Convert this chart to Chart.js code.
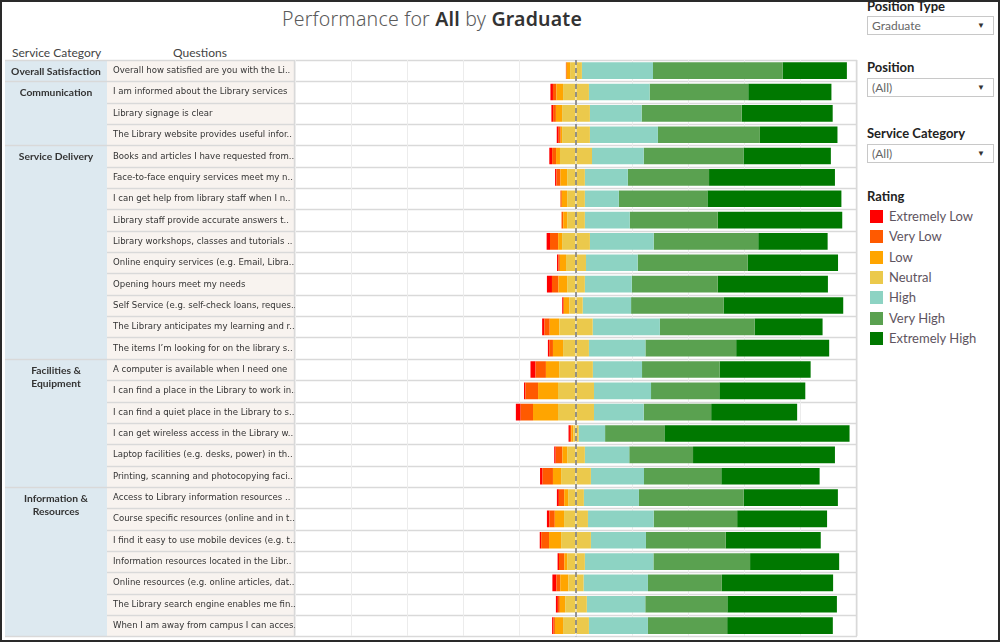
<!DOCTYPE html>
<html>
<head>
<meta charset="utf-8">
<script src="https://cdn.jsdelivr.net/npm/chart.js@4.4.1/dist/chart.umd.min.js"></script>
<style>
  html, body { margin:0; padding:0; background:#fff; }
  body { width:1000px; height:642px; position:relative; overflow:hidden; font-family:Lato, "Noto Sans", sans-serif; }
  #frame { position:absolute; left:0; top:0; width:1000px; height:642px; box-sizing:border-box; border:2px solid #2a2a2a; pointer-events:none; z-index:5; }
  #title { position:absolute; left:0; width:864px; top:5px; text-align:center; font-family:"Noto Sans"; font-size:19.5px; color:#5a5a5a; font-weight:300; letter-spacing:0.2px; }
  #title b { font-weight:600; color:#333; }
  .hdr { position:absolute; top:45px; font-size:12px; color:#444; }
  #chartWrap { position:absolute; left:0; top:0; width:860px; height:642px; }
  .panel { position:absolute; left:867px; font-size:12px; color:#333; }
  .ptitle { font-weight:700; font-size:13px; color:#222; }
  .dd { position:absolute; left:867px; width:127px; height:19px; box-sizing:border-box; border:1px solid #c8c8c8; font-size:12px; color:#666; padding-left:4px; line-height:17px; }
  .dd span.arr { position:absolute; right:8px; top:0; font-size:8px; color:#333; }
  .lg { position:absolute; font-size:13px; color:#5e5460; }
  .sw { position:absolute; left:870px; width:13px; height:13px; }
</style>
</head>
<body>
<div id="title">Performance for <b>All</b> by <b>Graduate</b></div>
<div class="hdr" style="left:12px;">Service Category</div>
<div class="hdr" style="left:173px;">Questions</div>
<div id="chartWrap"><canvas id="c" width="860" height="642"></canvas></div>

<div class="panel ptitle" style="top:-2px;">Position Type</div>
<div class="dd" style="top:16px;">Graduate<span class="arr">&#9660;</span></div>
<div class="panel ptitle" style="top:59px;">Position</div>
<div class="dd" style="top:78px;">(All)<span class="arr">&#9660;</span></div>
<div class="panel ptitle" style="top:125px;">Service Category</div>
<div class="dd" style="top:144px;">(All)<span class="arr">&#9660;</span></div>
<div class="panel ptitle" style="top:188px;">Rating</div>
<div id="legend"></div>
<div id="frame"></div>

<script>
// ---- data ----
const questions = [
  "Overall how satisfied are you with the Li..",
  "I am informed about the Library services",
  "Library signage is clear",
  "The Library website provides useful infor..",
  "Books and articles I have requested from..",
  "Face-to-face enquiry services meet my n..",
  "I can get help from library staff when I n..",
  "Library staff provide accurate answers t..",
  "Library workshops, classes and tutorials ..",
  "Online enquiry services (e.g. Email, Libra..",
  "Opening hours meet my needs",
  "Self Service (e.g. self-check loans, reques..",
  "The Library anticipates my learning and r..",
  "The items I\u2019m looking for on the library s..",
  "A computer is available when I need one",
  "I can find a place in the Library to work in..",
  "I can find a quiet place in the Library to s..",
  "I can get wireless access in the Library w..",
  "Laptop facilities (e.g. desks, power) in th..",
  "Printing, scanning and photocopying faci..",
  "Access to Library information resources ..",
  "Course specific resources (online and in t..",
  "I find it easy to use mobile devices (e.g. t..",
  "Information resources located in the Libr..",
  "Online resources (e.g. online articles, dat..",
  "The Library search engine enables me fin..",
  "When I am away from campus I can acces.."
];
const serviceCategories = ["Overall Satisfaction", "Communication", "Service Delivery", "Facilities &\nEquipment", "Information &\nResources"];
const categorySizes = [1, 3, 10, 6, 7];

const ratingNames = ["Extremely Low", "Very Low", "Low", "Neutral", "High", "Very High", "Extremely High"];
const ratingColors = ["#ff0000", "#ff5a00", "#ffa500", "#ebc94c", "#8dd3c3", "#5aa150", "#007800"];

const extremelyLow  = [0.0,0.9,0.6,0.7,1.0,0.5,0.0,0.0,1.2,0.5,1.8,0.3,0.8,0.6,1.8,0.5,1.7,0.5,0.5,0.9,0.7,0.9,0.5,0.5,1.4,0.7,0.5];
const veryLow       = [0.3,1.2,1.0,0.7,1.4,1.4,0.5,0.6,2.9,0.5,2.3,0.3,1.9,1.2,3.7,4.5,4.4,0.5,2.4,3.7,1.9,1.9,2.8,1.9,1.4,0.7,0.5];
const low           = [1.2,2.4,2.2,0.5,1.4,2.4,1.9,1.4,1.4,2.2,3.1,1.9,3.4,3.6,4.7,7.1,8.9,0.7,1.7,2.9,1.4,3.3,4.3,1.0,2.9,1.9,2.9];
const neutral       = [4.2,9.2,9.9,9.9,11.4,6.3,6.3,6.3,9.9,7.1,6.3,4.8,11.9,9.2,12.0,12.8,12.8,1.9,6.3,10.6,5.6,8.5,10.6,6.3,5.4,7.7,9.2];
const high          = [25.3,21.6,18.4,24.2,18.4,15.3,12.1,16.0,22.7,18.4,16.7,17.2,23.9,20.1,17.5,20.3,17.7,9.4,15.8,18.9,19.6,23.4,19.6,24.4,22.9,20.8,21.0];
const veryHigh      = [46.1,35.1,35.6,36.3,35.5,28.9,31.5,31.3,37.2,39.1,30.6,32.9,33.7,32.3,27.6,24.3,24.0,21.1,22.7,27.5,37.3,29.7,28.4,34.4,26.3,29.2,28.2];
const extremelyHigh = [22.9,29.6,32.4,27.6,31.1,44.8,47.7,44.3,24.7,32.2,39.2,42.6,24.2,33.1,32.4,30.6,30.6,65.9,50.5,35.0,33.5,32.0,33.8,31.7,39.6,39.0,37.6];

const axisTicks = [-100,-80,-60,-40,-20,0,20,40,60,80,100];

// ---- pick a font family/size that matches the reference text widths ----
const mctx = document.createElement('canvas').getContext('2d');
function w(font, s){ mctx.font = font; return mctx.measureText(s).width; }
function has(fam){ return w(`11px "${fam}", monospace`, 'abcdefghijklmnopqrstuvwxyz ABCDEFG') !== w('11px monospace', 'abcdefghijklmnopqrstuvwxyz ABCDEFG'); }
let FAM = 'Lato';
for (const f of ['Liberation Sans Narrow', 'DejaVu Sans Condensed']) { if (has(f)) { FAM = f; break; } }
const REF = 'I am informed about the Library services';
const QSIZE = Math.max(9.5, Math.min(13, 11 * 173 / w(`11px "${FAM}"`, REF)));
const CSIZE = Math.max(9.5, Math.min(12, 11 * 90 / w('bold 11px Lato', 'Overall Satisfaction')));

// ---- legend (HTML) ----
const lg = document.getElementById('legend');
ratingNames.forEach((n,i)=>{
  const y = 210 + i*20.3;
  lg.insertAdjacentHTML('beforeend', `<div class="sw" style="top:${y}px;background:${ratingColors[i]}"></div><div class="lg" style="left:889px;top:${y-2}px;">${n}</div>`);
});

// ---- datasets ----
const neg = a => a.map(v => -v);
const half = a => a.map(v => v/2);
const datasets = [
  {label:"Neutral", data: neg(half(neutral)), backgroundColor: ratingColors[3], stack:'s'},
  {label:"Low", data: neg(low), backgroundColor: ratingColors[2], stack:'s'},
  {label:"Very Low", data: neg(veryLow), backgroundColor: ratingColors[1], stack:'s'},
  {label:"Extremely Low", data: neg(extremelyLow), backgroundColor: ratingColors[0], stack:'s'},
  {label:"Neutral ", data: half(neutral), backgroundColor: ratingColors[3], stack:'s'},
  {label:"High", data: high, backgroundColor: ratingColors[4], stack:'s'},
  {label:"Very High", data: veryHigh, backgroundColor: ratingColors[5], stack:'s'},
  {label:"Extremely High", data: extremelyHigh, backgroundColor: ratingColors[6], stack:'s'}
].map(d => Object.assign(d, {barPercentage:0.78, categoryPercentage:1, borderWidth:0}));

const TABLE_L = 5, CAT_R = 107;

const tablePlugin = {
  id:'tablePlugin',
  beforeDraw(chart){
    const ctx = chart.ctx, y = chart.scales.y;
    const top = chart.chartArea.top, bottom = chart.chartArea.bottom, left = chart.chartArea.left, right = chart.chartArea.right;
    ctx.save();
    ctx.fillStyle = '#dde9f0';
    ctx.fillRect(TABLE_L, top, CAT_R - TABLE_L, bottom - top);
    ctx.fillStyle = '#f8f3ef';
    ctx.fillRect(CAT_R, top, left - CAT_R, bottom - top);
    const rh = (bottom - top) / questions.length;
    const groupStarts = new Set();
    let acc = 0;
    categorySizes.forEach(s => { groupStarts.add(acc); acc += s; });
    ctx.strokeStyle = '#d9d9d9';
    ctx.lineWidth = 1.7;
    for (let i = 0; i <= questions.length; i++) {
      const yy = Math.round(top + i * rh) + 0.5;
      const x0 = (groupStarts.has(i) || i === questions.length) ? TABLE_L : CAT_R;
      ctx.beginPath(); ctx.moveTo(x0, yy); ctx.lineTo(right, yy); ctx.stroke();
    }
    ctx.lineWidth = 1.5;
    ctx.beginPath(); ctx.moveTo(left - 0.5, top); ctx.lineTo(left - 0.5, bottom); ctx.stroke();
    ctx.beginPath(); ctx.moveTo(right - 0.5, top); ctx.lineTo(right - 0.5, bottom); ctx.stroke();
    ctx.fillStyle = '#333';
    ctx.font = `bold ${CSIZE}px Lato`;
    ctx.textAlign = 'center';
    ctx.textBaseline = 'middle';
    acc = 0;
    serviceCategories.forEach((c, gi) => {
      const lines = c.split('\n');
      const cy = y.getPixelForValue(acc) + 1;
      lines.forEach((ln, li) => ctx.fillText(ln, 56, cy + li * 13.5));
      acc += categorySizes[gi];
    });
    ctx.restore();
  },
  afterDatasetsDraw(chart){
    const ctx = chart.ctx, x = chart.scales.x;
    const px = Math.round(x.getPixelForValue(0));
    ctx.save();
    ctx.strokeStyle = 'rgba(125,125,125,0.8)';
    ctx.lineWidth = 2;
    ctx.setLineDash([5,3]);
    ctx.beginPath(); ctx.moveTo(px, chart.chartArea.top); ctx.lineTo(px, chart.chartArea.bottom); ctx.stroke();
    ctx.restore();
  }
};

new Chart(document.getElementById('c'), {
  type:'bar',
  data:{ labels: questions, datasets },
  options:{
    indexAxis:'y',
    responsive:false,
    animation:false,
    events:[],
    layout:{ padding:{ left:113, right:3, top:60, bottom:4 } },
    plugins:{ legend:{display:false}, tooltip:{enabled:false}, title:{display:false} },
    scales:{
      x:{
        stacked:true, min:-100, max:100,
        afterBuildTicks(s){ s.ticks = axisTicks.map(v => ({value:v})); },
        ticks:{ display:false },
        grid:{ color:'#ececec', lineWidth:1, drawTicks:false },
        border:{ display:false }
      },
      y:{
        stacked:true,
        afterFit(s){ s.width = 295 - 113; },
        ticks:{ crossAlign:'far', color:'#333', font:{ family:FAM, size:QSIZE }, padding:0, autoSkip:false },
        grid:{ display:false, drawTicks:false },
        border:{ display:false }
      }
    }
  },
  plugins:[tablePlugin]
});
</script>
</body>
</html>
